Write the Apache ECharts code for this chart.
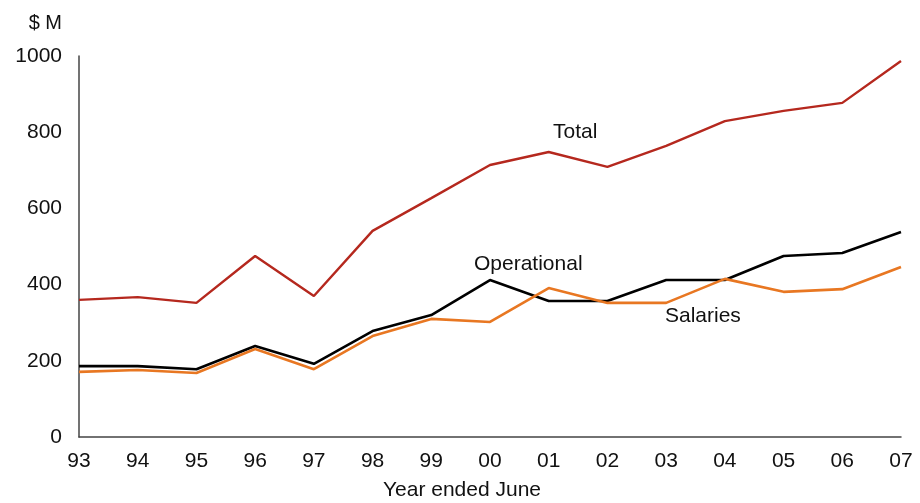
<!DOCTYPE html>
<html lang="en">
<head>
  <meta charset="UTF-8">
  <title>Expenditure</title>
  <style>
    html, body { margin: 0; padding: 0; background: #fff; }
    #chart { width: 920px; height: 503px; }
  </style>
</head>
<body>
<div id="chart"></div>
<script src="https://cdn.jsdelivr.net/npm/echarts@6/dist/echarts.min.js"></script>
<script>
const years = ['93', '94', '95', '96', '97', '98', '99', '00', '01', '02', '03', '04', '05', '06', '07'];
const total = [360, 367, 352, 475, 370, 541, 627, 714, 748, 709, 764, 829, 856, 877, 987];
const operational = [186, 186, 178, 239, 192, 278, 320, 412, 357, 357, 412, 412, 475, 483, 538];
const salaries = [171, 176, 168, 231, 178, 265, 310, 302, 391, 352, 352, 415, 381, 388, 446];

const font = 'Liberation Sans, Arial, sans-serif';

let myChart = echarts.init(document.getElementById('chart'));
myChart.setOption({
  animation: false,
  textStyle: { fontFamily: font },
  grid: { left: 79, right: 19, top: 56, bottom: 66, outerBoundsMode: 'none', containLabel: false },
  xAxis: {
    type: 'category',
    data: years,
    boundaryGap: false,
    axisLine: { lineStyle: { color: '#444', width: 1.5 } },
    axisTick: { show: false },
    axisLabel: { fontSize: 21, color: '#111', margin: 14, fontFamily: font }
  },
  yAxis: {
    type: 'value',
    min: 0,
    max: 1000,
    interval: 200,
    name: '$ M',
    nameLocation: 'end',
    nameGap: 23,
    nameTextStyle: { fontSize: 20, color: '#111', align: 'right', padding: [0, 17, 0, 0], fontFamily: font },
    axisLine: { show: true, lineStyle: { color: '#444', width: 1.5 } },
    axisTick: { show: false },
    splitLine: { show: false },
    axisLabel: { fontSize: 21, color: '#111', margin: 17, fontFamily: font, formatter: v => String(v) }
  },
  series: [
    {
      name: 'Total', type: 'line', data: total, symbol: 'none',
      lineStyle: { color: '#b5281e', width: 2.4 }
    },
    {
      name: 'Operational', type: 'line', data: operational, symbol: 'none',
      lineStyle: { color: '#000', width: 2.6 }
    },
    {
      name: 'Salaries', type: 'line', data: salaries, symbol: 'none',
      lineStyle: { color: '#e87722', width: 2.6 }
    }
  ],
  graphic: [
    { type: 'text', left: 553, top: 122, style: { text: 'Total', fontSize: 21, fill: '#111', fontFamily: font } },
    { type: 'text', left: 474, top: 254, style: { text: 'Operational', fontSize: 21, fill: '#111', fontFamily: font } },
    { type: 'text', left: 665, top: 306, style: { text: 'Salaries', fontSize: 21, fill: '#111', fontFamily: font } },
    { type: 'text', left: 383, top: 480, style: { text: 'Year ended June', fontSize: 21, fill: '#111', fontFamily: font } }
  ]
});
window.addEventListener('resize', () => {
  myChart.resize();
});
</script>
</body>
</html>
